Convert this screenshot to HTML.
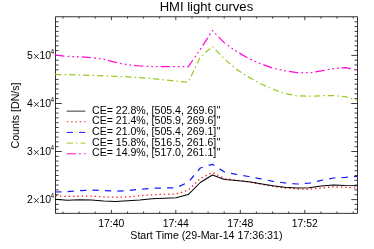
<!DOCTYPE html>
<html><head><meta charset="utf-8"><title>HMI light curves</title>
<style>
html,body{margin:0;padding:0;background:#fff;}
svg{display:block;will-change:transform;font-family:"Liberation Sans",sans-serif;}
</style></head><body>
<svg width="374" height="249" viewBox="0 0 374 249">
<rect x="0" y="0" width="374" height="249" fill="#ffffff"/>
<g stroke="#000" stroke-width="0.8" fill="none">
<rect x="55.6" y="16.8" width="301.9" height="196.5"/>
<path d="M63.0,213.3v-1.8M63.0,16.8v1.8M79.1,213.3v-1.8M79.1,16.8v1.8M95.2,213.3v-1.8M95.2,16.8v1.8M111.4,213.3v-3.4M111.4,16.8v3.4M127.5,213.3v-1.8M127.5,16.8v1.8M143.6,213.3v-1.8M143.6,16.8v1.8M159.7,213.3v-1.8M159.7,16.8v1.8M175.8,213.3v-3.4M175.8,16.8v3.4M192.0,213.3v-1.8M192.0,16.8v1.8M208.1,213.3v-1.8M208.1,16.8v1.8M224.2,213.3v-1.8M224.2,16.8v1.8M240.3,213.3v-3.4M240.3,16.8v3.4M256.4,213.3v-1.8M256.4,16.8v1.8M272.6,213.3v-1.8M272.6,16.8v1.8M288.7,213.3v-1.8M288.7,16.8v1.8M304.8,213.3v-3.4M304.8,16.8v3.4M320.9,213.3v-1.8M320.9,16.8v1.8M337.0,213.3v-1.8M337.0,16.8v1.8M353.2,213.3v-1.8M353.2,16.8v1.8M55.6,209.2h3.0M357.5,209.2h-3.0M55.6,204.4h3.0M357.5,204.4h-3.0M55.6,199.6h6.2M357.5,199.6h-6.2M55.6,194.7h3.0M357.5,194.7h-3.0M55.6,189.9h3.0M357.5,189.9h-3.0M55.6,185.1h3.0M357.5,185.1h-3.0M55.6,180.3h3.0M357.5,180.3h-3.0M55.6,175.5h3.0M357.5,175.5h-3.0M55.6,170.7h3.0M357.5,170.7h-3.0M55.6,165.9h3.0M357.5,165.9h-3.0M55.6,161.1h3.0M357.5,161.1h-3.0M55.6,156.3h3.0M357.5,156.3h-3.0M55.6,151.5h6.2M357.5,151.5h-6.2M55.6,146.7h3.0M357.5,146.7h-3.0M55.6,141.9h3.0M357.5,141.9h-3.0M55.6,137.1h3.0M357.5,137.1h-3.0M55.6,132.3h3.0M357.5,132.3h-3.0M55.6,127.5h3.0M357.5,127.5h-3.0M55.6,122.7h3.0M357.5,122.7h-3.0M55.6,117.9h3.0M357.5,117.9h-3.0M55.6,113.1h3.0M357.5,113.1h-3.0M55.6,108.3h3.0M357.5,108.3h-3.0M55.6,103.5h6.2M357.5,103.5h-6.2M55.6,98.6h3.0M357.5,98.6h-3.0M55.6,93.8h3.0M357.5,93.8h-3.0M55.6,89.0h3.0M357.5,89.0h-3.0M55.6,84.2h3.0M357.5,84.2h-3.0M55.6,79.4h3.0M357.5,79.4h-3.0M55.6,74.6h3.0M357.5,74.6h-3.0M55.6,69.8h3.0M357.5,69.8h-3.0M55.6,65.0h3.0M357.5,65.0h-3.0M55.6,60.2h3.0M357.5,60.2h-3.0M55.6,55.4h6.2M357.5,55.4h-6.2M55.6,50.6h3.0M357.5,50.6h-3.0M55.6,45.8h3.0M357.5,45.8h-3.0M55.6,41.0h3.0M357.5,41.0h-3.0M55.6,36.2h3.0M357.5,36.2h-3.0M55.6,31.4h3.0M357.5,31.4h-3.0M55.6,26.6h3.0M357.5,26.6h-3.0M55.6,21.8h3.0M357.5,21.8h-3.0" stroke-width="0.75"/>
</g>
<g fill="none" stroke-width="1.25" stroke-linejoin="round">
<polyline points="55.2,55.1 67.3,56.3 79.4,56.8 91.5,57.6 103.6,59.2 115.7,62.4 127.7,64.8 139.8,66.0 151.9,66.5 164.0,66.5 176.1,66.5 188.2,66.8 200.3,49.4 212.4,30.6 224.5,42.9 236.6,51.5 248.6,58.4 260.7,63.8 272.8,68.1 284.9,70.8 297.0,72.6 309.1,72.8 321.2,70.9 333.3,68.6 345.4,67.6 357.4,69.9" stroke="#ff0ad2" stroke-width="1.25" stroke-dasharray="9.2 3.35 1.7 2.95 1.7 2.95 1.7 3.05"/>
<polyline points="55.2,74.4 67.3,74.6 79.4,74.9 91.5,75.4 103.6,75.9 115.7,76.3 127.7,76.8 139.8,77.7 151.9,78.6 164.0,79.8 176.1,81.1 188.2,82.2 200.3,57.0 212.4,46.5 224.5,59.0 236.6,69.4 248.6,77.1 260.7,83.8 272.8,89.2 284.9,93.5 297.0,95.9 309.1,96.2 321.2,95.8 333.3,95.5 345.4,96.7 357.4,100.4" stroke="#99cc22" stroke-dasharray="6.3 3.1 1.5 3.1"/>
<polyline points="55.2,192.0 67.3,191.6 79.4,190.6 91.5,190.1 103.6,190.6 115.7,191.1 127.7,190.6 139.8,189.3 151.9,188.2 164.0,188.0 176.1,187.7 188.2,182.3 200.3,168.0 212.4,164.3 224.5,172.0 236.6,174.4 248.6,176.5 260.7,178.8 272.8,181.3 284.9,182.9 297.0,184.0 309.1,183.2 321.2,180.4 333.3,178.0 345.4,177.4 357.4,176.4" stroke="#1a1aff" stroke-dasharray="6.3 6.15"/>
<polyline points="55.2,195.6 67.3,196.5 79.4,196.2 91.5,196.2 103.6,196.9 115.7,197.3 127.7,196.9 139.8,195.7 151.9,194.8 164.0,194.3 176.1,194.1 188.2,190.1 200.3,178.5 212.4,172.5 224.5,178.5 236.6,180.4 248.6,181.8 260.7,184.1 272.8,186.4 284.9,188.0 297.0,189.0 309.1,189.3 321.2,188.0 333.3,186.9 345.4,187.3 357.4,188.2" stroke="#ff1a1a" stroke-width="1.3" stroke-dasharray="1.4 2.93" stroke-dashoffset="-0.5"/>
<polyline points="55.2,199.3 67.3,200.2 79.4,199.7 91.5,200.1 103.6,201.0 115.7,201.4 127.7,200.7 139.8,199.9 151.9,198.7 164.0,198.3 176.1,197.8 188.2,194.6 200.3,182.5 212.4,175.0 224.5,179.6 236.6,180.5 248.6,181.7 260.7,183.7 272.8,185.7 284.9,187.2 297.0,188.0 309.1,187.7 321.2,186.1 333.3,184.9 345.4,185.6 357.4,185.7" stroke="#000000" stroke-width="1.05"/>
</g>
<g fill="#000">
<text x="206.4" y="11.1" font-size="13.05" text-anchor="middle">HMI light curves</text>
<text x="111.3" y="227.2" font-size="10.45" text-anchor="middle">17:40</text>
<text x="175.7" y="227.2" font-size="10.45" text-anchor="middle">17:44</text>
<text x="240.2" y="227.2" font-size="10.45" text-anchor="middle">17:48</text>
<text x="304.7" y="227.2" font-size="10.45" text-anchor="middle">17:52</text>
<text x="206.4" y="238.7" font-size="10.67" text-anchor="middle">Start Time (29-Mar-14 17:36:31)</text>
<text x="26.9" y="203.2" font-size="10.45">2</text>
<path d="M34.0,198.2l4.7,4.7m0,-4.7l-4.7,4.7" stroke="#000" stroke-width="0.8" fill="none"/>
<text x="51.2" y="203.2" font-size="10.45" text-anchor="end">10</text>
<text x="54.0" y="198.2" font-size="6.5" text-anchor="end">4</text>
<text x="26.9" y="155.2" font-size="10.45">3</text>
<path d="M34.0,150.1l4.7,4.7m0,-4.7l-4.7,4.7" stroke="#000" stroke-width="0.8" fill="none"/>
<text x="51.2" y="155.2" font-size="10.45" text-anchor="end">10</text>
<text x="54.0" y="150.2" font-size="6.5" text-anchor="end">4</text>
<text x="26.9" y="107.2" font-size="10.45">4</text>
<path d="M34.0,102.1l4.7,4.7m0,-4.7l-4.7,4.7" stroke="#000" stroke-width="0.8" fill="none"/>
<text x="51.2" y="107.2" font-size="10.45" text-anchor="end">10</text>
<text x="54.0" y="102.2" font-size="6.5" text-anchor="end">4</text>
<text x="26.9" y="59.1" font-size="10.45">5</text>
<path d="M34.0,54.0l4.7,4.7m0,-4.7l-4.7,4.7" stroke="#000" stroke-width="0.8" fill="none"/>
<text x="51.2" y="59.1" font-size="10.45" text-anchor="end">10</text>
<text x="54.0" y="54.1" font-size="6.5" text-anchor="end">4</text>
<text transform="translate(19.3,115.5) rotate(-90)" font-size="10.6" text-anchor="middle">Counts [DN/s]</text>
<line x1="66.6" y1="111.15" x2="85.4" y2="111.15" stroke="#000000" stroke-width="0.8"/>
<text x="92.0" y="113.70" font-size="10.57">CE= 22.8%, [505.4, 269.6]<tspan dx="0.6">"</tspan></text>
<line x1="66.6" y1="121.80" x2="85.4" y2="121.80" stroke="#ff1a1a" stroke-width="1.0" stroke-dasharray="1.4 2.93" stroke-dashoffset="-0.3"/>
<text x="92.0" y="124.35" font-size="10.57">CE= 21.4%, [505.9, 269.6]<tspan dx="0.6">"</tspan></text>
<line x1="66.6" y1="132.45" x2="85.4" y2="132.45" stroke="#1a1aff" stroke-width="1.0" stroke-dasharray="6.3 6.15"/>
<text x="92.0" y="135.00" font-size="10.57">CE= 21.0%, [505.4, 269.1]<tspan dx="0.6">"</tspan></text>
<line x1="66.6" y1="143.10" x2="85.4" y2="143.10" stroke="#99cc22" stroke-width="1.0" stroke-dasharray="6.3 3.1 1.5 3.1"/>
<text x="92.0" y="145.65" font-size="10.57">CE= 15.8%, [516.5, 261.6]<tspan dx="0.6">"</tspan></text>
<line x1="66.6" y1="153.75" x2="85.4" y2="153.75" stroke="#ff0ad2" stroke-width="1.0" stroke-dasharray="9.2 3.35 1.7 2.95 1.7 2.95 1.7 3.05"/>
<text x="92.0" y="156.30" font-size="10.57">CE= 14.9%, [517.0, 261.1]<tspan dx="0.6">"</tspan></text>
</g>
</svg></body></html>
